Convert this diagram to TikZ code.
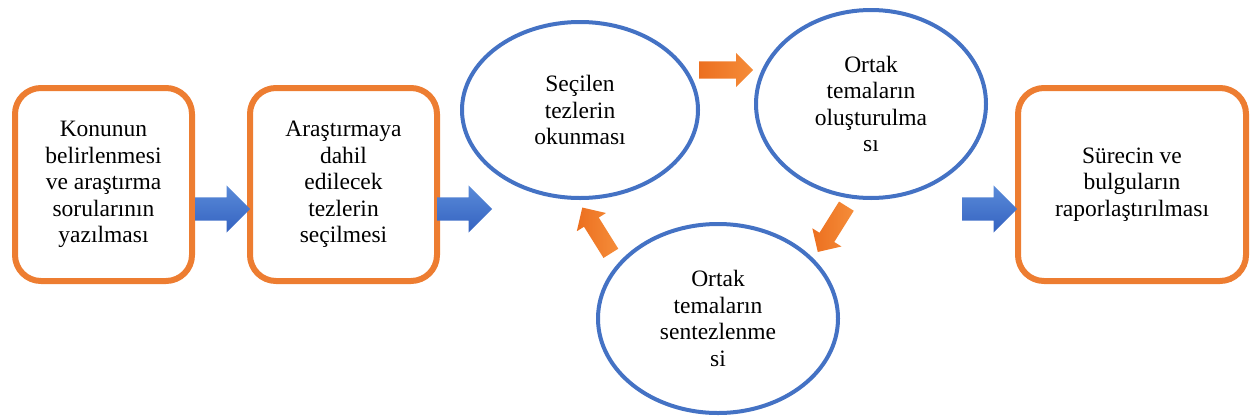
\documentclass[tikz,border=0pt]{standalone}
\usepackage{fontspec}
\setmainfont{Liberation Serif}
\usetikzlibrary{shapes.geometric,shapes.arrows}
\definecolor{boxorange}{HTML}{ED7D31}
\definecolor{ringblue}{HTML}{4472C4}
\definecolor{bluetop}{HTML}{5A8BD9}
\definecolor{bluebot}{HTML}{3462C0}
\definecolor{orangedark}{HTML}{EC6F1F}
\definecolor{orangelight}{HTML}{F58D3A}

\begin{document}
\begin{tikzpicture}[x=1pt,y=-1pt,
  every node/.style={font=\fontsize{23.5}{26.4}\selectfont,align=center},
  box/.style={draw=boxorange,line width=6pt,rounded corners=26pt,minimum height=193pt},
  ring/.style={ellipse,draw=ringblue,line width=4pt,inner sep=0pt},
  bluearrow/.style={single arrow,anchor=tail,inner xsep=0pt,inner ysep=11.5pt,minimum height=55pt,
    single arrow head extend=12pt,top color=bluetop,bottom color=bluebot},
  orangearrow/.style={single arrow,anchor=tail,inner xsep=0pt,inner ysep=8.5pt,minimum height=54pt,
    single arrow head extend=8.5pt,left color=orangedark,right color=orangelight}]
\useasboundingbox (0,0) rectangle (1250,418);
% steps
\node[box,minimum width=177pt] (konu) at (103.5,184.5) {Konunun\\belirlenmesi\\ve araştırma\\sorularının\\yazılması};
\node[box,minimum width=187pt] (secim) at (343.5,184.5) {Araştırmaya\\dahil\\edilecek\\tezlerin\\seçilmesi};
\node[box,minimum width=228pt] (rapor) at (1132,184.5) {Sürecin ve\\bulguların\\raporlaştırılması};
% cycle
\node[ring,minimum width=236pt,minimum height=176pt] (okuma) at (580,110) {Seçilen\\tezlerin\\okunması};
\node[ring,minimum width=230pt,minimum height=188pt] (olustur) at (871,104) {Ortak\\temaların\\oluşturulma\\sı};
\node[ring,minimum width=240pt,minimum height=189pt] (sentez) at (718,318.5) {Ortak\\temaların\\sentezlenme\\si};
% arrows
\node[bluearrow] (k2s) at (195,209) {};
\node[bluearrow] (s2o) at (437,209) {};
\node[bluearrow] (o2r) at (962,209) {};
\node[orangearrow] (ok2ol) at (699,70) {};
\node[orangearrow,rotate=-122] (ol2se) at (846.5,206) {};
\node[orangearrow,rotate=122] (se2ok) at (611,253.5) {};
\end{tikzpicture}
\end{document}
